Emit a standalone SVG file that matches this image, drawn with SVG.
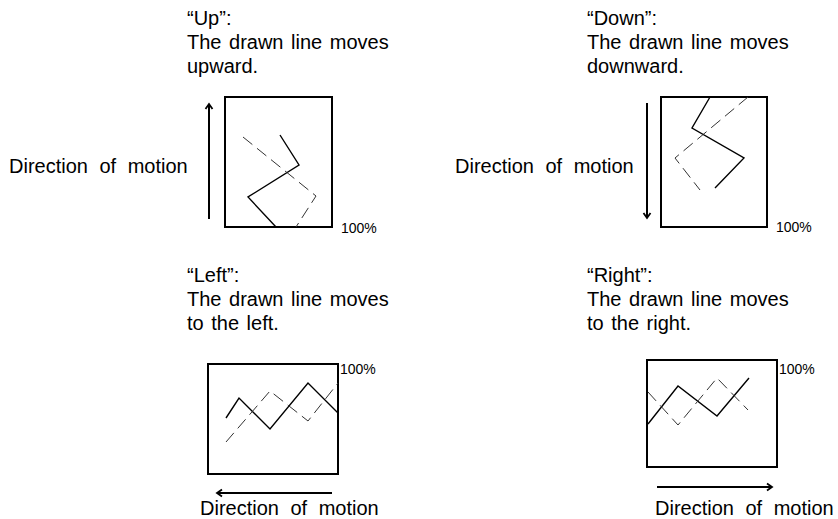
<svg xmlns="http://www.w3.org/2000/svg" width="838" height="519" viewBox="0 0 838 519">
<style>
text{font-family:"Liberation Sans",Arial,sans-serif;fill:#000}
.t{font-size:20px;word-spacing:2px}
.d{font-size:20px;word-spacing:6px}
.p{font-size:14px}
.box{fill:none;stroke:#000;stroke-width:2}
.ar{fill:none;stroke:#000;stroke-width:2}
.sol{fill:none;stroke:#000;stroke-width:1.4}
.das{fill:none;stroke:#333;stroke-width:1;stroke-dasharray:12 6}
</style>
<defs>
<marker id="ah" markerWidth="10" markerHeight="10" refX="8" refY="5" orient="auto" markerUnits="userSpaceOnUse">
<polyline points="3,1.5 8,5 3,8.5" fill="none" stroke="#000" stroke-width="1.8"/>
</marker>
</defs>
<g id="up">
<text class="t" x="187" y="25">“Up”:</text>
<text class="t" x="187" y="49">The drawn line moves</text>
<text class="t" x="187" y="73">upward.</text>
<rect class="box" x="225" y="97" width="107" height="130"/>
<polyline class="sol" points="280,135 299,165 248,197 276,227"/>
<polyline class="das" points="243,137 316,196 296,227"/>
<text class="d" x="9" y="173">Direction of motion</text>
<text class="p" x="341" y="233">100%</text>
</g>
<g id="down">
<text class="t" x="587" y="25">“Down”:</text>
<text class="t" x="587" y="49">The drawn line moves</text>
<text class="t" x="587" y="73">downward.</text>
<rect class="box" x="661" y="97" width="106" height="130"/>
<polyline class="sol" points="710,97 692,128 744,158 715,188"/>
<polyline class="das" points="748,97 675,158 700,190"/>
<text class="d" x="455" y="173">Direction of motion</text>
<text class="p" x="776" y="232">100%</text>
</g>
<g id="left">
<text class="t" x="187" y="282">“Left”:</text>
<text class="t" x="187" y="306">The drawn line moves</text>
<text class="t" x="187" y="330">to the left.</text>
<rect class="box" x="208" y="364" width="130" height="110"/>
<polyline class="sol" points="226,418 239,398 270,429 308,383 338,413"/>
<polyline class="das" points="226,442 270,391 308,421 338,383"/>
<text class="p" x="340" y="374">100%</text>
<text class="d" x="200" y="515">Direction of motion</text>
</g>
<g id="right">
<text class="t" x="587" y="282">“Right”:</text>
<text class="t" x="587" y="306">The drawn line moves</text>
<text class="t" x="587" y="330">to the right.</text>
<rect class="box" x="647" y="360" width="130" height="107"/>
<polyline class="sol" points="648,424 678,386 717,416 749,378"/>
<polyline class="das" points="648,392 678,425 717,378 748,410"/>
<text class="p" x="779" y="374">100%</text>
<text class="d" x="655" y="515">Direction of motion</text>
</g>
<g id="connectors">
<line class="ar" x1="209" y1="219" x2="209" y2="104" marker-end="url(#ah)"/>
<line class="ar" x1="647" y1="103" x2="647" y2="218" marker-end="url(#ah)"/>
<line class="ar" x1="332" y1="493" x2="217" y2="493" marker-end="url(#ah)"/>
<line class="ar" x1="657" y1="487" x2="772" y2="487" marker-end="url(#ah)"/>
</g>
</svg>
